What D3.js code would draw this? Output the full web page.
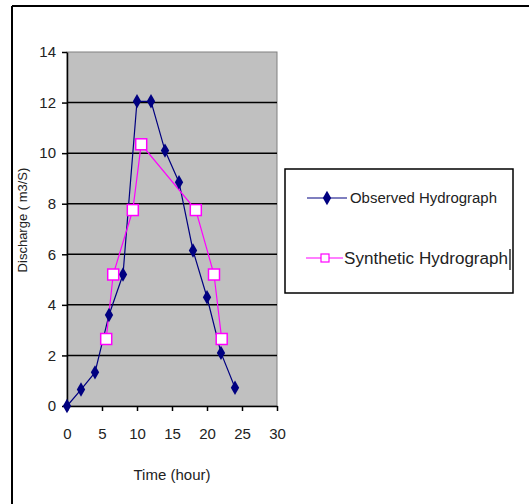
<!DOCTYPE html>
<html>
<head>
<meta charset="utf-8">
<script src="https://cdn.jsdelivr.net/npm/d3@7"></script>
<style>
  body { margin: 0; background: #fff; }
  svg { display: block; font-family: "Liberation Sans", Arial, sans-serif; }
</style>
</head>
<body>
<svg id="chart" width="529" height="504"></svg>
<script>
// observed hydrograph (time in hours, discharge in m3/s)
const obsTime = [0, 2, 4, 6, 8, 10, 12, 14, 16, 18, 20, 22, 24];
const obsQ = [0, 0.65, 1.33, 3.6, 5.2, 12.05, 12.05, 10.1, 8.85, 6.15, 4.3, 2.1, 0.72];

// synthetic hydrograph
const synTime = [5.6, 6.6, 9.4, 10.6, 18.4, 21, 22.1];
const synQ = [2.65, 5.2, 7.75, 10.35, 7.75, 5.2, 2.65];

const xTicks = [0, 5, 10, 15, 20, 25, 30];
const yTicks = [0, 2, 4, 6, 8, 10, 12, 14];

const svg = d3.select('#chart');

// outer frame (top and left edges only visible)
svg.append('line').attr('x1', 12).attr('y1', 6).attr('x2', 529).attr('y2', 6)
    .attr('stroke', '#000').attr('stroke-width', 2);
svg.append('line').attr('x1', 12).attr('y1', 6).attr('x2', 12).attr('y2', 504)
    .attr('stroke', '#000').attr('stroke-width', 2);

const x = d3.scaleLinear().domain([0, 30]).range([67, 277]);
const y = d3.scaleLinear().domain([0, 14]).range([406, 52]);

// plot area
svg.append('rect')
    .attr('x', x(0)).attr('y', y(14))
    .attr('width', x(30) - x(0)).attr('height', y(0) - y(14))
    .attr('fill', '#c0c0c0')
    .attr('stroke', '#808080').attr('stroke-width', 1);

// gridlines
svg.append('g').selectAll('line')
    .data(yTicks.filter(d => d > 0 && d < 14))
    .join('line')
    .attr('x1', x(0)).attr('x2', x(30))
    .attr('y1', d => y(d)).attr('y2', d => y(d))
    .attr('stroke', '#000').attr('stroke-width', 1.5);

// axes
const xAxis = svg.append('g')
    .attr('transform', `translate(0,${y(0)})`)
    .call(d3.axisBottom(x).tickValues(xTicks).tickSize(5).tickPadding(17).tickSizeOuter(0));
const yAxis = svg.append('g')
    .attr('transform', `translate(${x(0)},0)`)
    .call(d3.axisLeft(y).tickValues(yTicks).tickSize(5).tickPadding(6).tickSizeOuter(0));

[xAxis, yAxis].forEach(g => {
    g.select('.domain').attr('stroke', '#000').attr('stroke-width', 1.5);
    g.selectAll('.tick line').attr('stroke', '#000').attr('stroke-width', 1.5);
    g.selectAll('.tick text')
        .attr('fill', '#222')
        .attr('font-size', '15px')
        .attr('font-family', '"Liberation Sans", Arial, sans-serif');
});

// axis titles
svg.append('text')
    .attr('x', 172).attr('y', 480)
    .attr('text-anchor', 'middle')
    .attr('font-size', '15px')
    .attr('fill', '#222')
    .text('Time (hour)');

svg.append('text')
    .attr('transform', 'translate(27,220) rotate(-90)')
    .attr('text-anchor', 'middle')
    .attr('font-size', '13px')
    .attr('fill', '#222')
    .text('Discharge ( m3/S)');

// series
const obs = obsTime.map((t, i) => ({ t, q: obsQ[i] }));
const syn = synTime.map((t, i) => ({ t, q: synQ[i] }));

const line = d3.line().x(d => x(d.t)).y(d => y(d.q));

svg.append('path').datum(obs)
    .attr('d', line)
    .attr('fill', 'none')
    .attr('stroke', '#000080')
    .attr('stroke-width', 1.2);

svg.append('path').datum(syn)
    .attr('d', line)
    .attr('fill', 'none')
    .attr('stroke', '#ff00ff')
    .attr('stroke-width', 1.2);

const diamond = d3.symbol().type(d3.symbolDiamond).size(60);

svg.append('g').selectAll('path')
    .data(obs)
    .join('path')
    .attr('d', diamond)
    .attr('transform', d => `translate(${x(d.t)},${y(d.q)})`)
    .attr('fill', '#000080');

svg.append('g').selectAll('rect')
    .data(syn)
    .join('rect')
    .attr('x', d => x(d.t) - 5.5).attr('y', d => y(d.q) - 5.5)
    .attr('width', 11).attr('height', 11)
    .attr('fill', '#fff')
    .attr('stroke', '#ff00ff')
    .attr('stroke-width', 1.5);

// legend
const legend = svg.append('g');
legend.append('rect')
    .attr('x', 285).attr('y', 169)
    .attr('width', 228).attr('height', 124)
    .attr('fill', '#fff')
    .attr('stroke', '#000').attr('stroke-width', 1.5);

legend.append('line')
    .attr('x1', 307).attr('x2', 347).attr('y1', 198).attr('y2', 198)
    .attr('stroke', '#000080').attr('stroke-width', 1.2);
legend.append('path')
    .attr('d', diamond)
    .attr('transform', 'translate(327,198)')
    .attr('fill', '#000080');
legend.append('text')
    .attr('x', 350).attr('y', 203)
    .attr('font-size', '14px')
    .attr('fill', '#222')
    .attr('textLength', 147)
    .attr('lengthAdjust', 'spacingAndGlyphs')
    .text('Observed Hydrograph');

legend.append('line')
    .attr('x1', 306).attr('x2', 343).attr('y1', 258).attr('y2', 258)
    .attr('stroke', '#ff00ff').attr('stroke-width', 1.2);
legend.append('rect')
    .attr('x', 321).attr('y', 254).attr('width', 8).attr('height', 8)
    .attr('fill', '#fff')
    .attr('stroke', '#ff00ff').attr('stroke-width', 1.2);
legend.append('text')
    .attr('x', 344).attr('y', 264)
    .attr('font-size', '16px')
    .attr('fill', '#222')
    .attr('textLength', 164)
    .attr('lengthAdjust', 'spacingAndGlyphs')
    .text('Synthetic Hydrograph');
// text cursor left in the original
legend.append('line')
    .attr('x1', 510).attr('x2', 510).attr('y1', 249).attr('y2', 270)
    .attr('stroke', '#000').attr('stroke-width', 1.2);
</script>
</body>
</html>
